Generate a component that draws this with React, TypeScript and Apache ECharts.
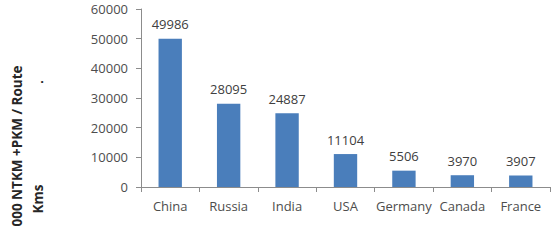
import React, { useEffect, useRef } from "react";
import * as echarts from "echarts";

const categories = ["China", "Russia", "India", "USA", "Germany", "Canada", "France"];
const values = [49986, 28095, 24887, 11104, 5506, 3970, 3907];
const yTicks = { min: 0, max: 60000, interval: 10000 };
const titleLine1 = "000 NTKM +PKM / Route";
const titleLine2 = "Kms";

const FONT = "'Open Sans', sans-serif";

export default function App() {
  const ref = useRef<HTMLDivElement>(null);
  useEffect(() => {
    if (!ref.current) return;
    const chart = echarts.init(ref.current, undefined, { renderer: "svg" });
    chart.setOption({
      animation: false,
      backgroundColor: "#ffffff",
      textStyle: { fontFamily: FONT },
      grid: { left: 141, right: 8, top: 9, bottom: 63, containLabel: false },
      xAxis: {
        type: "category",
        data: categories,
        axisLine: { lineStyle: { color: "#8c8c8c", width: 1 } },
        axisTick: { show: true, length: 5, lineStyle: { color: "#8c8c8c" } },
        axisLabel: {
          color: "#4d4d4d",
          fontSize: 13,
          margin: 12,
          fontFamily: FONT,
          interval: 0,
          hideOverlap: false,
        },
      },
      yAxis: {
        type: "value",
        min: yTicks.min,
        max: yTicks.max,
        interval: yTicks.interval,
        axisLine: { show: true, lineStyle: { color: "#8c8c8c", width: 1 } },
        axisTick: { show: true, length: 5, lineStyle: { color: "#8c8c8c" } },
        splitLine: { show: false },
        axisLabel: {
          color: "#4d4d4d",
          fontSize: 13,
          margin: 13,
          fontFamily: FONT,
          formatter: (v: number) => String(v),
        },
      },
      series: [
        {
          type: "bar",
          data: values,
          barWidth: "40%",
          itemStyle: { color: "#4a7ebb" },
          label: {
            show: true,
            position: "top",
            distance: 8,
            color: "#404040",
            fontSize: 13,
            fontFamily: FONT,
          },
        },
      ],
      graphic: [
        {
          type: "text",
          x: 17,
          y: 146,
          rotation: Math.PI / 2,
          style: {
            text: titleLine1,
            fontSize: 13.5,
            fontWeight: "bold",
            fontFamily: FONT,
            fill: "#262626",
            align: "center",
            verticalAlign: "middle",
          },
        },
        {
          type: "text",
          x: 38,
          y: 199,
          rotation: Math.PI / 2,
          style: {
            text: titleLine2,
            fontSize: 13.5,
            fontWeight: "bold",
            fontFamily: FONT,
            fill: "#262626",
            align: "center",
            verticalAlign: "middle",
          },
        },
        {
          type: "text",
          x: 42,
          y: 78,
          style: {
            text: ".",
            fontSize: 13,
            fontWeight: "bold",
            fontFamily: FONT,
            fill: "#262626",
            align: "center",
            verticalAlign: "middle",
          },
        },
      ],
    });
    return () => chart.dispose();
  }, []);
  return <div ref={ref} style={{ width: 558, height: 250, position: "absolute", left: 0, top: 0 }} />;
}
